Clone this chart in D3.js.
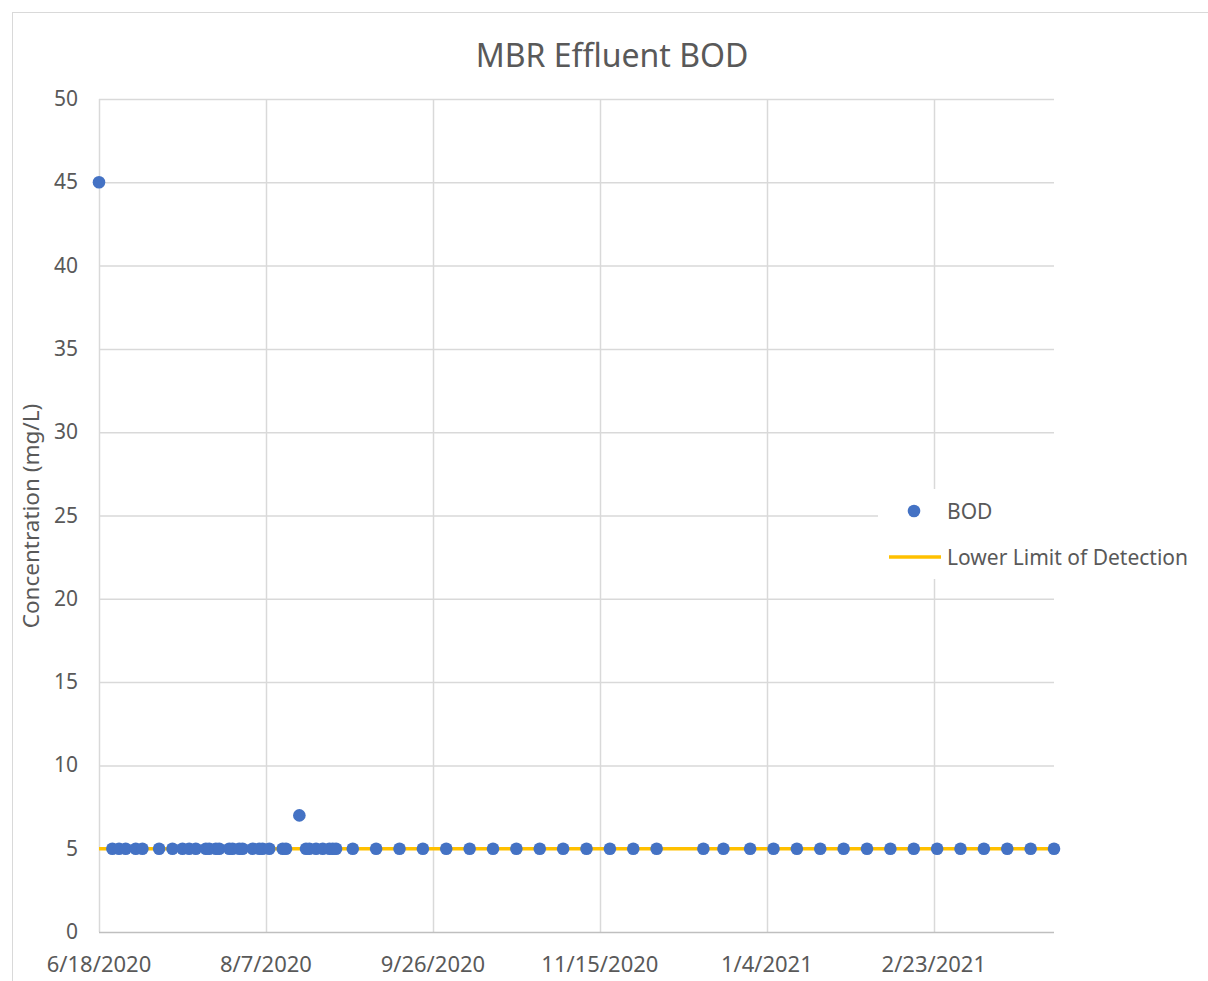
<!DOCTYPE html>
<html><head><meta charset="utf-8">
<script src="https://cdn.jsdelivr.net/npm/d3@7"></script>
<style>body{margin:0;background:#fff}svg{display:block}text{font-family:"Noto Sans",sans-serif;fill:#595959}</style>
</head><body>
<svg id="c" width="1208" height="981"></svg>
<script>
const bodDates = ["6/18/2020","6/22/2020","6/24/2020","6/26/2020","6/29/2020","7/1/2020","7/6/2020","7/10/2020","7/13/2020","7/15/2020","7/17/2020","7/20/2020","7/21/2020","7/23/2020","7/24/2020","7/27/2020","7/28/2020","7/30/2020","7/31/2020","8/3/2020","8/5/2020","8/6/2020","8/8/2020","8/12/2020","8/13/2020","8/17/2020","8/19/2020","8/20/2020","8/22/2020","8/24/2020","8/26/2020","8/27/2020","8/28/2020","9/2/2020","9/9/2020","9/16/2020","9/23/2020","9/30/2020","10/7/2020","10/14/2020","10/21/2020","10/28/2020","11/4/2020","11/11/2020","11/18/2020","11/25/2020","12/2/2020","12/16/2020","12/22/2020","12/30/2020","1/6/2021","1/13/2021","1/20/2021","1/27/2021","2/3/2021","2/10/2021","2/17/2021","2/24/2021","3/3/2021","3/10/2021","3/17/2021","3/24/2021","3/31/2021"];
const bodValues = [45,5,5,5,5,5,5,5,5,5,5,5,5,5,5,5,5,5,5,5,5,5,5,5,5,7,5,5,5,5,5,5,5,5,5,5,5,5,5,5,5,5,5,5,5,5,5,5,5,5,5,5,5,5,5,5,5,5,5,5,5,5,5];
const lldDates = ["6/18/2020","3/31/2021"];
const lldValues = [5,5];
const xTickLabels = ["6/18/2020","8/7/2020","9/26/2020","11/15/2020","1/4/2021","2/23/2021"];
const yTicks = [0,5,10,15,20,25,30,35,40,45,50];

const parse = d3.timeParse("%-m/%-d/%Y");
const svg = d3.select("#c");
const L=99,R=1054,T=99,B=932;
const x = d3.scaleTime().domain([parse("6/18/2020"), parse("3/31/2021")]).range([L,R]);
const y = d3.scaleLinear().domain([0,50]).range([B,T]);

svg.append("rect").attr("x",12.5).attr("y",12.5).attr("width",1220).attr("height",1000).attr("fill","#fff").attr("stroke","#d9d9d9");

svg.append("text").attr("x",612).attr("y",67).attr("text-anchor","middle").attr("font-size",32).text("MBR Effluent BOD");

// horizontal gridlines
svg.append("g").selectAll("line").data(yTicks.filter(v=>v>0)).join("line")
 .attr("x1",L).attr("x2",R).attr("y1",d=>y(d)+0.5).attr("y2",d=>y(d)+0.5).attr("stroke","#d9d9d9").attr("stroke-width",1.5);
// vertical gridlines
svg.append("g").selectAll("line").data(xTickLabels).join("line")
 .attr("x1",d=>Math.round(x(parse(d)))+0.5).attr("x2",d=>Math.round(x(parse(d)))+0.5).attr("y1",T).attr("y2",B).attr("stroke","#d9d9d9").attr("stroke-width",1.5);
// bottom axis
svg.append("line").attr("x1",L).attr("x2",R).attr("y1",B+0.5).attr("y2",B+0.5).attr("stroke","#bfbfbf").attr("stroke-width",1.5);

// y labels
svg.append("g").selectAll("text").data(yTicks).join("text")
 .attr("x",78).attr("y",d=>y(d)+7).attr("text-anchor","end").attr("font-size",21).text(d=>d);
// x labels
svg.append("g").selectAll("text").data(xTickLabels).join("text")
 .attr("x",d=>x(parse(d))).attr("y",972).attr("text-anchor","middle").attr("font-size",22).text(d=>d);

svg.append("text").attr("transform","translate(39,516) rotate(-90)").attr("text-anchor","middle").attr("font-size",22.5).text("Concentration (mg/L)");

// LLD line
const line = d3.line().x(d=>x(d[0])).y(d=>y(d[1]));
svg.append("path").datum(lldDates.map((d,i)=>[parse(d),lldValues[i]])).attr("d",line).attr("fill","none").attr("stroke","#FFC000").attr("stroke-width",3.5);

// points
svg.append("g").selectAll("circle").data(bodDates.map((d,i)=>[parse(d),bodValues[i]])).join("circle")
 .attr("cx",d=>x(d[0])).attr("cy",d=>y(d[1])).attr("r",6.3).attr("fill","#4472C4");

// legend
const lg = svg.append("g");
lg.append("rect").attr("x",878).attr("y",489).attr("width",330).attr("height",90).attr("fill","#fff");
lg.append("circle").attr("cx",914).attr("cy",511).attr("r",6.3).attr("fill","#4472C4");
lg.append("text").attr("x",947).attr("y",519).attr("font-size",21).text("BOD");
lg.append("line").attr("x1",889).attr("x2",941).attr("y1",557).attr("y2",557).attr("stroke","#FFC000").attr("stroke-width",3.5);
lg.append("text").attr("x",947).attr("y",565).attr("font-size",21).text("Lower Limit of Detection");
</script>
</body></html>
